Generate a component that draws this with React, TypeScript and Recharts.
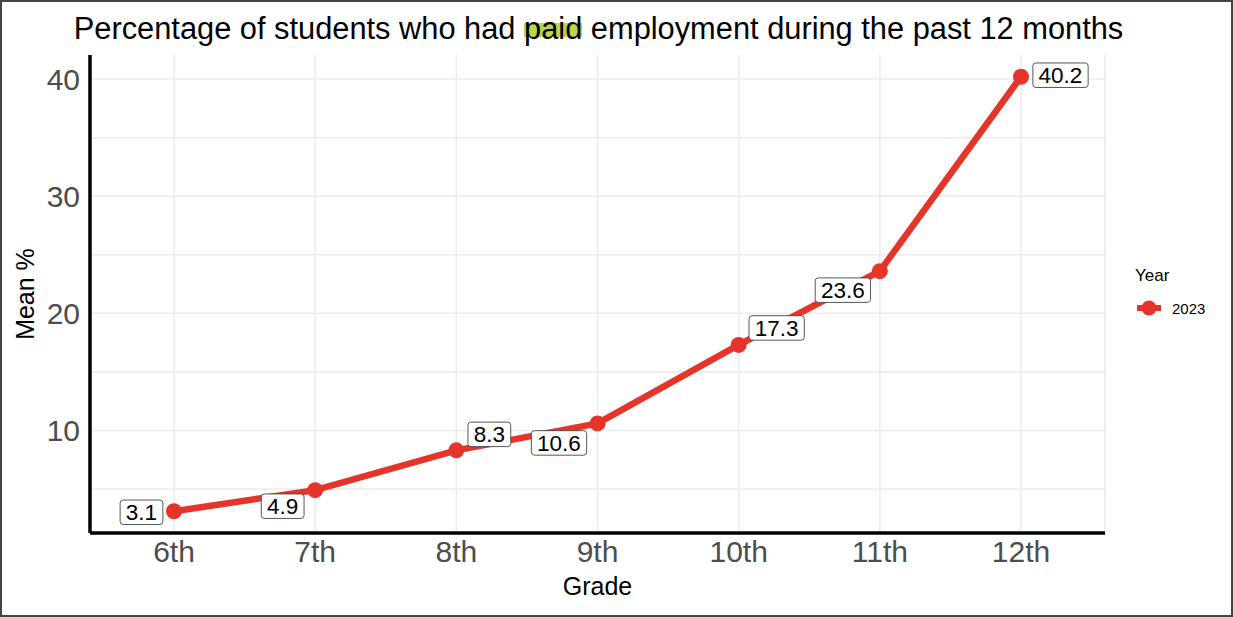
import { LineChart, Line, XAxis, YAxis, CartesianGrid, ReferenceLine, LabelList, Legend } from 'recharts'

const grades = ['6th', '7th', '8th', '9th', '10th', '11th', '12th']
const pct2023 = [3.1, 4.9, 8.3, 10.6, 17.3, 23.6, 40.2]
const yTicks = [10, 20, 30, 40]
const minorGrid = [5, 15, 25, 35]
const seriesName = '2023'

// repel-style label offsets (px) from each point
const labelOffsets: [number, number][] = [
  [-32.5, 1], [-32.5, 16], [33, -16], [-38.5, 19.5], [38, -17], [-37, 19], [39.5, -1.5],
]

const data = grades.map((g, i) => ({ grade: g, y2023: pct2023[i] }))

const RED = '#e5352a'
const FONT = '"Liberation Sans", Arial, Helvetica, sans-serif'

function textWidth(s: string, size: number) {
  let w = 0
  for (const c of s) w += c === '.' ? 0.278 : 0.556
  return w * size
}

function BoxLabel(props: any) {
  const { x, y, value, index } = props
  if (value == null) return null
  const [dx, dy] = labelOffsets[index] ?? [0, 0]
  const txt = Number(value).toFixed(1)
  const w = textWidth(txt, 22.5) + 11.5
  const h = 24.5
  const cx = x + dx
  const cy = y + dy
  return (
    <g>
      <rect x={cx - w / 2} y={cy - h / 2} width={w} height={h} rx={3} fill="#fff" stroke="#444" strokeWidth={0.9} />
      <text x={cx} y={cy + 8} textAnchor="middle" fontSize={22.5} fontFamily={FONT} fill="#000">{txt}</text>
    </g>
  )
}

function YearLegend() {
  return (
    <div style={{ fontFamily: FONT, color: '#000' }}>
      <div style={{ fontSize: 17, lineHeight: '20px', marginBottom: 12 }}>Year</div>
      <div style={{ display: 'flex', alignItems: 'center', height: 20 }}>
        <svg width={28} height={20}>
          <line x1={2} y1={10} x2={26} y2={10} stroke={RED} strokeWidth={6} />
          <circle cx={14} cy={10} r={7.5} fill={RED} />
        </svg>
        <span style={{ fontSize: 15, marginLeft: 9 }}>{seriesName}</span>
      </div>
    </div>
  )
}

export default function App() {
  return (
    <div style={{ position: 'absolute', left: 0, top: 0, width: 1233, height: 617, background: '#fff', fontFamily: FONT }}>
      <div style={{ position: 'absolute', left: 0, top: 11, width: 1197, textAlign: 'center', fontSize: 30.8, lineHeight: '36px', color: '#000', whiteSpace: 'nowrap' }}>
        Percentage of students who had{' '}
        <span style={{ background: 'linear-gradient(to bottom, transparent 34%, #bcd44a 34%, #bcd44a 74%, transparent 74%)' }}>paid</span>
        {' '}employment during the past 12 months
      </div>
      <LineChart width={1233} height={617} data={data} margin={{ top: 55, right: 128, bottom: 22, left: 0 }}>
        <CartesianGrid horizontal={false} stroke="#ebebeb" strokeWidth={1.5} />
        {[...minorGrid, ...yTicks].map(v => (
          <ReferenceLine key={v} y={v} stroke="#ebebeb" strokeWidth={1.5} />
        ))}
        <XAxis
          dataKey="grade"
          height={62}
          padding={{ left: 84, right: 84 }}
          axisLine={{ stroke: '#000', strokeWidth: 3.5 }}
          tickLine={false}
          tickSize={0}
          tickMargin={8}
          tick={{ fill: '#4d4d4d', fontSize: 30, fontFamily: FONT }}
          label={{ value: 'Grade', position: 'insideBottom', offset: 0, fill: '#000', fontSize: 25, fontFamily: FONT }}
        />
        <YAxis
          width={90}
          domain={[1.245, 42.055]}
          allowDataOverflow
          ticks={yTicks}
          axisLine={{ stroke: '#000', strokeWidth: 3.5 }}
          tickLine={false}
          tickSize={0}
          tickMargin={10}
          tick={{ fill: '#4d4d4d', fontSize: 30, fontFamily: FONT }}
          label={{ value: 'Mean %', angle: -90, position: 'insideLeft', offset: 25, fill: '#000', fontSize: 25, fontFamily: FONT, style: { textAnchor: 'middle' } }}
        />
        <Legend
          layout="vertical"
          align="center"
          verticalAlign="middle"
          wrapperStyle={{ left: 1135, top: 266, width: 100 }}
          content={<YearLegend />}
        />
        <Line
          dataKey="y2023"
          name={seriesName}
          stroke={RED}
          strokeWidth={6.5}
          dot={{ r: 8, fill: RED, stroke: RED, strokeWidth: 0 }}
          activeDot={false}
          isAnimationActive={false}
        >
          <LabelList dataKey="y2023" content={<BoxLabel />} />
        </Line>
      </LineChart>
      <div style={{ position: 'absolute', left: 0, top: 0, width: 1233, height: 617, boxSizing: 'border-box', border: '2px solid #444', pointerEvents: 'none' }} />
    </div>
  )
}
